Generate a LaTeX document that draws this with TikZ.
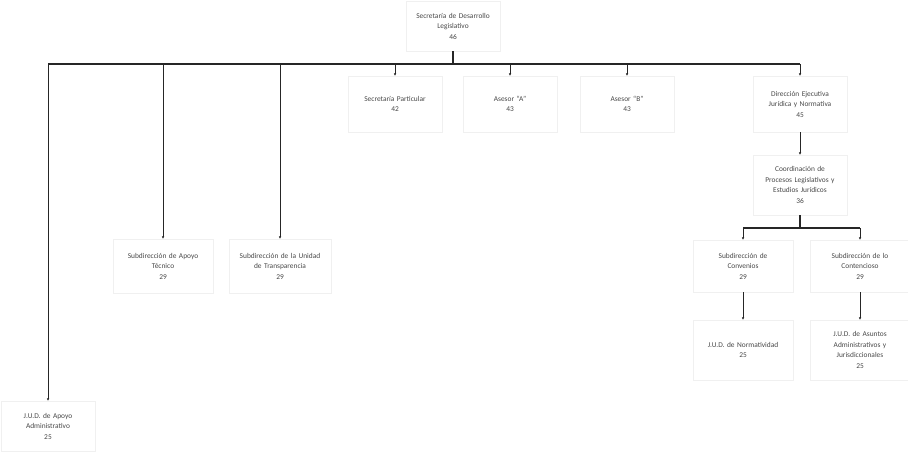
\documentclass[tikz,border=0pt]{standalone}
\usepackage{fontspec}
\setmainfont{Carlito}
\usetikzlibrary{arrows.meta}
\begin{document}
\begin{tikzpicture}[x=1pt,y=-1pt,
  unit/.style={draw=black!6, line width=0.4pt, align=center, text=black!72,
    font=\fontsize{7.4}{10.5}\selectfont, inner sep=2pt,
    minimum width=92, text width=90},
  bus/.style={draw=black!85, line width=1.3pt},
  link/.style={draw=black!85, line width=0.9pt, -{Latex[length=2.4pt,width=2.6pt]}},
  stem/.style={draw=black!85, line width=1.1pt}]
\useasboundingbox (0,0) rectangle (908,458);

% head of the unit
\node[unit, minimum height=50] (top) at (453,26) {Secretaría de Desarrollo\\Legislativo\\46};

% first level
\node[unit, minimum height=56] (sp)  at (395,104) {Secretaría Particular\\42};
\node[unit, minimum height=56] (asa) at (510,104) {Asesor “A”\\43};
\node[unit, minimum height=56] (asb) at (627,104) {Asesor “B”\\43};
\node[unit, minimum height=56] (dir) at (800,104) {Dirección Ejecutiva\\Jurídica y Normativa\\45};
\node[unit, minimum height=54, minimum width=100] (sat) at (163,266) {Subdirección de Apoyo\\Técnico\\29};
\node[unit, minimum height=54, minimum width=100, text width=98] (sut) at (280,266) {Subdirección de la Unidad\\de Transparencia\\29};
\node[unit, minimum height=50] (jaa) at (48,426) {J.U.D. de Apoyo\\Administrativo\\25};

% legal branch
\node[unit, minimum height=60] (cpl) at (800,185) {Coordinación de\\Procesos Legislativos y\\Estudios Jurídicos\\36};
\node[unit, minimum height=52, minimum width=100] (sco) at (743,266) {Subdirección de\\Convenios\\29};
\node[unit, minimum height=52, minimum width=100] (sct) at (860,266) {Subdirección de lo\\Contencioso\\29};
\node[unit, minimum height=60, minimum width=100] (jno) at (743,350) {J.U.D. de Normatividad\\25};
\node[unit, minimum height=60, minimum width=100] (jaj) at (860,350) {J.U.D. de Asuntos\\Administrativos y\\Jurisdiccionales\\25};

% main distribution bar
\coordinate (b0) at (453,64);
\draw[stem] (top.south) -- (top.south |- b0);
\draw[bus] (jaa.north |- b0) -- (dir.north |- b0);
\foreach \n in {jaa,sat,sut,sp,asa,asb,dir}
  \draw[link] (\n.north |- b0) -- (\n.north);

% legal branch connectors
\draw[link] (dir.south) -- (cpl.north);
\coordinate (b1) at (800,228);
\draw[stem] (cpl.south) -- (cpl.south |- b1);
\draw[bus] (sco.north |- b1) -- (sct.north |- b1);
\draw[link] (sco.north |- b1) -- (sco.north);
\draw[link] (sct.north |- b1) -- (sct.north);
\draw[link] (sco.south) -- (jno.north);
\draw[link] (sct.south) -- (jaj.north);
\end{tikzpicture}
\end{document}
